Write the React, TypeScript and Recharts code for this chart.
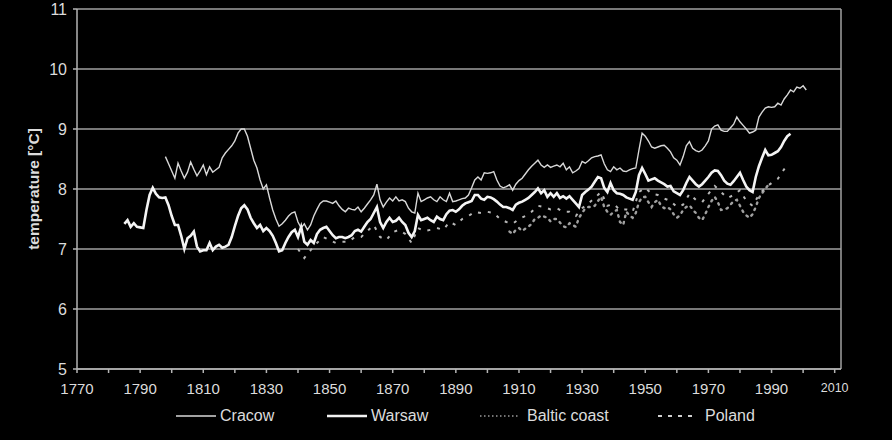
import React from "react";
import { LineChart, Line, XAxis, YAxis, CartesianGrid, ReferenceLine } from "recharts";

// ---------- data ----------
const cracowYears = [1798,1799,1800,1801,1802,1803,1804,1805,1806,1807,1808,1809,1810,1811,1812,1813,1814,1815,1816,1817,1818,1819,1820,1821,1822,1823,1824,1825,1826,1827,1828,1829,1830,1831,1832,1833,1834,1835,1836,1837,1838,1839,1840,1841,1842,1843,1844,1845,1846,1847,1848,1849,1850,1851,1852,1853,1854,1855,1856,1857,1858,1859,1860,1861,1862,1863,1864,1865,1866,1867,1868,1869,1870,1871,1872,1873,1874,1875,1876,1877,1878,1879,1880,1881,1882,1883,1884,1885,1886,1887,1888,1889,1890,1891,1892,1893,1894,1895,1896,1897,1898,1899,1900,1901,1902,1903,1904,1905,1906,1907,1908,1909,1910,1911,1912,1913,1914,1915,1916,1917,1918,1919,1920,1921,1922,1923,1924,1925,1926,1927,1928,1929,1930,1931,1932,1933,1934,1935,1936,1937,1938,1939,1940,1941,1942,1943,1944,1945,1946,1947,1948,1949,1950,1951,1952,1953,1954,1955,1956,1957,1958,1959,1960,1961,1962,1963,1964,1965,1966,1967,1968,1969,1970,1971,1972,1973,1974,1975,1976,1977,1978,1979,1980,1981,1982,1983,1984,1985,1986,1987,1988,1989,1990,1991,1992,1993,1994,1995,1996,1997,1998,1999,2000,2001];
const cracowValues = [8.54,8.42,8.30,8.18,8.43,8.30,8.18,8.28,8.45,8.33,8.22,8.30,8.40,8.24,8.37,8.28,8.32,8.36,8.52,8.60,8.66,8.72,8.80,8.93,9.00,9.00,8.88,8.68,8.48,8.35,8.15,8.00,8.07,7.85,7.65,7.50,7.38,7.42,7.48,7.55,7.60,7.62,7.45,7.35,7.42,7.32,7.40,7.55,7.66,7.76,7.80,7.80,7.78,7.76,7.80,7.72,7.66,7.62,7.68,7.66,7.65,7.70,7.62,7.68,7.75,7.82,7.90,8.08,7.82,7.70,7.78,7.85,7.80,7.87,7.80,7.82,7.79,7.68,7.62,7.60,7.93,7.79,7.82,7.85,7.87,7.82,7.79,7.87,7.82,7.79,7.93,7.79,7.80,7.82,7.84,7.85,7.90,8.02,8.15,8.20,8.15,8.27,8.26,8.27,8.29,8.15,8.05,8.02,8.04,8.07,7.98,8.08,8.14,8.18,8.25,8.32,8.38,8.43,8.48,8.40,8.36,8.40,8.36,8.38,8.40,8.37,8.43,8.32,8.37,8.27,8.30,8.34,8.46,8.43,8.47,8.52,8.54,8.55,8.57,8.42,8.32,8.29,8.37,8.32,8.35,8.30,8.29,8.32,8.34,8.35,8.65,8.93,8.88,8.80,8.70,8.68,8.70,8.72,8.73,8.68,8.62,8.52,8.48,8.40,8.54,8.72,8.79,8.68,8.64,8.62,8.65,8.72,8.80,9.00,9.05,9.07,8.98,8.96,8.96,9.02,9.08,9.20,9.12,9.06,9.00,8.93,8.95,8.98,9.20,9.28,9.35,9.37,9.36,9.37,9.43,9.40,9.50,9.57,9.65,9.62,9.70,9.68,9.72,9.65];

const warsawYears = [1785,1786,1787,1788,1789,1790,1791,1792,1793,1794,1795,1796,1797,1798,1799,1800,1801,1802,1803,1804,1805,1806,1807,1808,1809,1810,1811,1812,1813,1814,1815,1816,1817,1818,1819,1820,1821,1822,1823,1824,1825,1826,1827,1828,1829,1830,1831,1832,1833,1834,1835,1836,1837,1838,1839,1840,1841,1842,1843,1844,1845,1846,1847,1848,1849,1850,1851,1852,1853,1854,1855,1856,1857,1858,1859,1860,1861,1862,1863,1864,1865,1866,1867,1868,1869,1870,1871,1872,1873,1874,1875,1876,1877,1878,1879,1880,1881,1882,1883,1884,1885,1886,1887,1888,1889,1890,1891,1892,1893,1894,1895,1896,1897,1898,1899,1900,1901,1902,1903,1904,1905,1906,1907,1908,1909,1910,1911,1912,1913,1914,1915,1916,1917,1918,1919,1920,1921,1922,1923,1924,1925,1926,1927,1928,1929,1930,1931,1932,1933,1934,1935,1936,1937,1938,1939,1940,1941,1942,1943,1944,1945,1946,1947,1948,1949,1950,1951,1952,1953,1954,1955,1956,1957,1958,1959,1960,1961,1962,1963,1964,1965,1966,1967,1968,1969,1970,1971,1972,1973,1974,1975,1976,1977,1978,1979,1980,1981,1982,1983,1984,1985,1986,1987,1988,1989,1990,1991,1992,1993,1994,1995,1996];
const warsawValues = [7.42,7.48,7.37,7.43,7.37,7.36,7.35,7.65,7.90,8.02,7.92,7.86,7.85,7.86,7.73,7.55,7.40,7.40,7.22,7.00,7.18,7.22,7.29,7.04,6.96,6.98,6.98,7.10,6.98,7.04,7.07,7.02,7.04,7.07,7.20,7.38,7.55,7.68,7.73,7.66,7.52,7.43,7.35,7.40,7.30,7.35,7.30,7.22,7.10,6.96,6.98,7.10,7.20,7.28,7.32,7.20,7.37,7.12,7.07,7.15,7.10,7.25,7.32,7.35,7.37,7.30,7.23,7.18,7.20,7.20,7.18,7.20,7.23,7.30,7.32,7.29,7.37,7.45,7.50,7.60,7.70,7.45,7.35,7.45,7.52,7.45,7.47,7.52,7.45,7.40,7.27,7.20,7.30,7.57,7.48,7.50,7.52,7.48,7.45,7.54,7.50,7.48,7.58,7.64,7.65,7.62,7.66,7.72,7.76,7.78,7.80,7.90,7.90,7.84,7.82,7.87,7.86,7.83,7.79,7.74,7.70,7.70,7.68,7.65,7.74,7.77,7.79,7.82,7.85,7.90,7.95,8.01,7.93,7.98,7.87,7.93,7.87,7.93,7.85,7.88,7.84,7.88,7.82,7.76,7.70,7.90,7.95,7.99,8.04,8.12,8.20,8.18,8.02,7.95,8.10,7.98,7.93,7.92,7.90,7.86,7.84,7.82,7.95,8.23,8.35,8.25,8.14,8.16,8.18,8.14,8.11,8.08,8.04,8.05,7.96,7.93,7.90,7.98,8.10,8.20,8.14,8.08,8.04,8.08,8.14,8.20,8.27,8.31,8.30,8.23,8.14,8.09,8.07,8.13,8.20,8.27,8.15,8.04,7.98,7.95,8.20,8.38,8.52,8.65,8.56,8.57,8.60,8.63,8.70,8.80,8.88,8.92];

const balticYears = [1907,1908,1909,1910,1911,1912,1913,1914,1915,1916,1917,1918,1919,1920,1921,1922,1923,1924,1925,1926,1927,1928,1929,1930,1931,1932,1933,1934,1935,1936,1937,1938,1939,1940,1941,1942,1943,1944,1945,1946,1947,1948,1949,1950,1951,1952,1953,1954,1955,1956,1957,1958,1959,1960,1961,1962,1963,1964,1965,1966,1967,1968,1969,1970,1971,1972,1973,1974,1975,1976,1977,1978,1979,1980,1981,1982,1983,1984,1985,1986,1987,1988,1989];
const balticValues = [7.29,7.25,7.32,7.35,7.30,7.34,7.37,7.42,7.50,7.52,7.56,7.54,7.52,7.46,7.50,7.50,7.44,7.38,7.36,7.43,7.40,7.37,7.52,7.60,7.68,7.70,7.70,7.72,7.80,7.87,7.70,7.62,7.57,7.62,7.65,7.45,7.40,7.62,7.56,7.52,7.60,7.78,7.86,7.87,7.78,7.70,7.78,7.82,7.72,7.68,7.70,7.66,7.58,7.52,7.56,7.65,7.70,7.73,7.66,7.60,7.52,7.48,7.58,7.70,7.80,7.87,7.78,7.65,7.66,7.68,7.74,7.80,7.82,7.72,7.62,7.56,7.52,7.58,7.70,7.85,7.93,8.00,8.07];

const polandYears = [1840,1842,1844,1846,1848,1850,1852,1854,1856,1858,1860,1862,1864,1866,1868,1870,1872,1874,1876,1878,1880,1882,1884,1886,1888,1890,1892,1894,1896,1898,1900,1902,1904,1906,1908,1910,1912,1914,1916,1918,1920,1922,1924,1926,1928,1930,1932,1934,1936,1938,1940,1942,1944,1946,1948,1950,1952,1954,1956,1958,1960,1962,1964,1966,1968,1970,1972,1974,1976,1978,1980,1982,1984,1986,1988,1990,1992,1994,1995];
const polandValues = [7.00,6.85,6.98,7.10,7.20,7.15,7.10,7.12,7.12,7.20,7.20,7.30,7.40,7.20,7.15,7.28,7.32,7.25,7.10,7.35,7.30,7.32,7.35,7.32,7.45,7.40,7.50,7.55,7.62,7.60,7.62,7.60,7.50,7.45,7.42,7.50,7.55,7.62,7.72,7.70,7.66,7.68,7.62,7.62,7.55,7.68,7.76,7.85,7.95,7.72,7.75,7.65,7.66,7.62,7.95,8.02,7.92,7.90,7.84,7.80,7.70,7.74,7.92,7.82,7.78,7.92,8.05,7.95,7.85,7.90,7.98,7.80,7.72,7.90,8.02,8.10,8.17,8.33,8.38];

const seriesNames = ["Cracow", "Warsaw", "Baltic coast", "Poland"];
const xTicks = [1770,1780,1790,1800,1810,1820,1830,1840,1850,1860,1870,1880,1890,1900,1910,1920,1930,1940,1950,1960,1970,1980,1990,2000,2010];
const yTicks = [5, 6, 7, 8, 9, 10, 11];
const xDomainMax = 2012;
const yAxisTitle = "temperature [°C]";

// ---------- build ----------
const toRows = (years: number[], values: number[]) => years.map((y, i) => ({ year: y, v: values[i] }));
const cracowData = toRows(cracowYears, cracowValues);
const warsawData = toRows(warsawYears, warsawValues);
const balticData = toRows(balticYears, balticValues);
const polandData = toRows(polandYears, polandValues);

const FONT = "'Liberation Sans', Arial, sans-serif";
const TEXT = "#dcdcdc";

const XTick = (props: any) => {
  const { x, y, payload } = props;
  const v = payload.value;
  if ((v - 1770) % 20 !== 0) return null;
  const small = v === 2010;
  return (
    <text x={x} y={y} dy="0.71em" textAnchor="middle" fill={TEXT} fontSize={small ? 12.5 : 15} fontFamily={FONT}>
      {v}
    </text>
  );
};

const YLabel = () => (
  <text x={39} y={189} transform="rotate(-90 39 189)" textAnchor="middle" fill={TEXT} fontSize={15.5} fontWeight="bold" fontFamily={FONT}>
    {yAxisTitle}
  </text>
);

const legendLayout = [
  { swatchLeft: 176, textLeft: 220, width: 1.3, dash: undefined as string | undefined, color: "#d8d8d8" },
  { swatchLeft: 327, textLeft: 371, width: 2.6, dash: undefined, color: "#f2f2f2" },
  { swatchLeft: 480, textLeft: 527, width: 1.6, dash: "1.5 2.5", color: "#9a9a9a" },
  { swatchLeft: 658, textLeft: 705, width: 2.2, dash: "4 6", color: "#cfcfcf" },
];

export default function App() {
  return (
    <div style={{ position: "absolute", left: 0, top: 0, width: 892, height: 440, background: "#000", overflow: "hidden" }}>
      <LineChart width={892} height={440} margin={{ top: 9, right: 51, bottom: 41, left: 17 }}>
        <CartesianGrid horizontal vertical={false} stroke="#a0a0a0" strokeWidth={1.5} />
        <XAxis
          dataKey="year"
          type="number"
          domain={[1770, xDomainMax]}
          ticks={xTicks}
          interval={0}
          allowDuplicatedCategory={false}
          tick={<XTick />}
          tickSize={4}
          tickMargin={10}
          stroke="#b5b5b5"
          strokeWidth={1.5}
          height={30}
        />
        <YAxis
          type="number"
          domain={[5, 11]}
          ticks={yTicks}
          interval={0}
          width={60}
          tickSize={4}
          tickMargin={6}
          stroke="#b5b5b5"
          strokeWidth={1.5}
          tick={{ fill: TEXT, fontSize: 16, fontFamily: FONT }}
          label={<YLabel />}
        />
        <ReferenceLine x={xDomainMax} stroke="#a0a0a0" strokeWidth={1.5} ifOverflow="visible" />
        <Line data={balticData} dataKey="v" type="linear" stroke="#a0a0a0" strokeWidth={2.4} strokeDasharray="1.5 5" strokeLinecap="round" dot={false} isAnimationActive={false} />
        <Line data={polandData} dataKey="v" type="linear" stroke="#b8b8b8" strokeWidth={2} strokeDasharray="3 7" dot={false} isAnimationActive={false} />
        <Line data={cracowData} dataKey="v" type="linear" stroke="#d8d8d8" strokeWidth={1.4} dot={false} isAnimationActive={false} />
        <Line data={warsawData} dataKey="v" type="linear" stroke="#f4f4f4" strokeWidth={2.6} dot={false} isAnimationActive={false} />
      </LineChart>
      {seriesNames.map((name, i) => {
        const l = legendLayout[i];
        return (
          <React.Fragment key={name}>
            <svg style={{ position: "absolute", left: l.swatchLeft, top: 410 }} width={40} height={12}>
              <line x1={0} y1={6} x2={40} y2={6} stroke={l.color} strokeWidth={l.width} strokeDasharray={l.dash} />
            </svg>
            <div style={{ position: "absolute", left: l.textLeft, top: 406, color: TEXT, fontSize: 16, fontFamily: FONT, lineHeight: "20px", whiteSpace: "nowrap" }}>
              {name}
            </div>
          </React.Fragment>
        );
      })}
    </div>
  );
}
